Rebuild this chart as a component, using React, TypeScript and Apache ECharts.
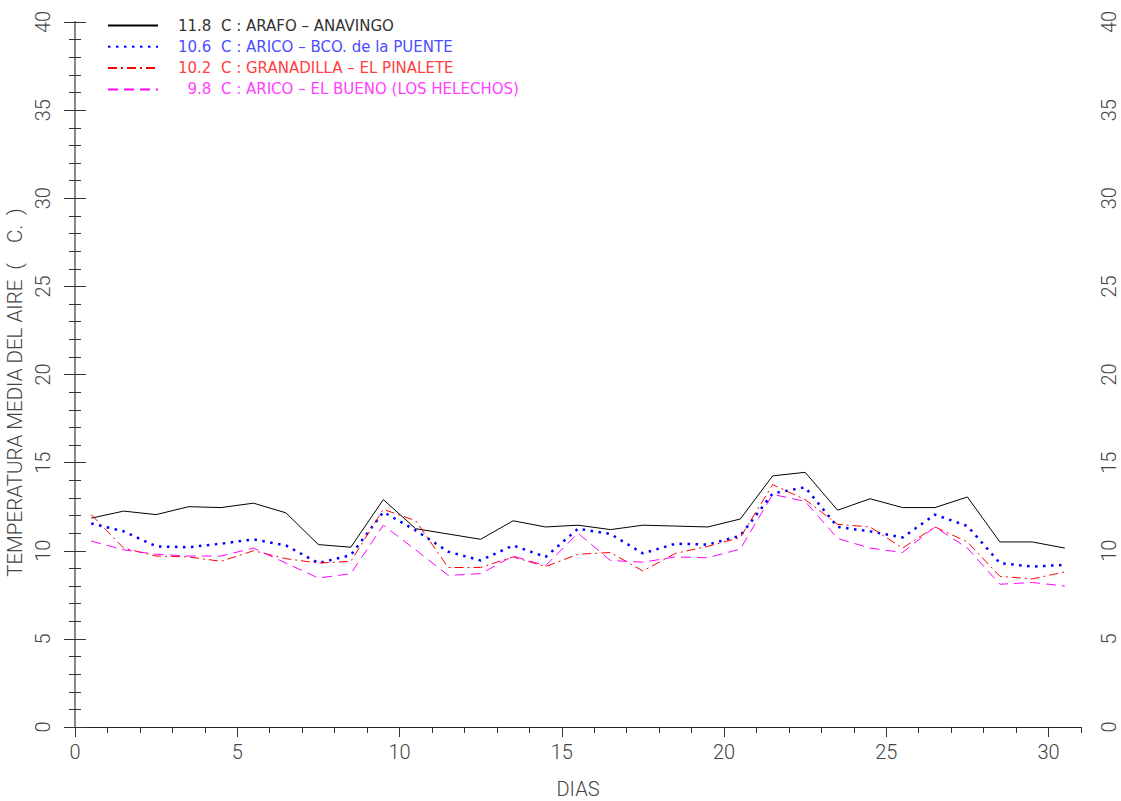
import React, { useEffect, useRef } from "react";
import * as echarts from "echarts";

const days = [0.5, 1.5, 2.5, 3.5, 4.5, 5.5, 6.5, 7.5, 8.5, 9.5, 10.5, 11.5, 12.5, 13.5, 14.5, 15.5, 16.5, 17.5, 18.5, 19.5, 20.5, 21.5, 22.5, 23.5, 24.5, 25.5, 26.5, 27.5, 28.5, 29.5, 30.5];

const arafo = [11.85, 12.25, 12.05, 12.5, 12.45, 12.7, 12.15, 10.35, 10.2, 12.9, 11.25, 10.95, 10.65, 11.7, 11.35, 11.45, 11.2, 11.45, 11.4, 11.35, 11.8, 14.25, 14.45, 12.3, 12.95, 12.45, 12.45, 13.05, 10.5, 10.5, 10.15];
const bcoPuente = [11.55, 11.1, 10.25, 10.2, 10.4, 10.65, 10.3, 9.3, 9.75, 12.2, 11.15, 9.95, 9.45, 10.3, 9.65, 11.25, 10.95, 9.85, 10.4, 10.35, 10.85, 13.25, 13.6, 11.35, 11.1, 10.75, 12.05, 11.4, 9.3, 9.1, 9.2];
const pinalete = [12.05, 10.15, 9.7, 9.65, 9.4, 10.0, 9.55, 9.3, 9.4, 12.35, 11.7, 9.05, 9.05, 9.65, 9.1, 9.8, 9.9, 8.85, 9.85, 10.25, 10.75, 13.75, 12.9, 11.5, 11.35, 10.15, 11.35, 10.5, 8.55, 8.4, 8.8];
const helechos = [10.55, 10.05, 9.8, 9.7, 9.7, 10.15, 9.3, 8.45, 8.7, 11.45, 10.05, 8.6, 8.7, 9.7, 9.15, 11.0, 9.45, 9.35, 9.65, 9.6, 10.1, 13.2, 12.8, 10.7, 10.15, 9.9, 11.35, 10.15, 8.1, 8.2, 8.0];

const seriesNames = [
  "11.8  C : ARAFO \u2013 ANAVINGO",
  "10.6  C : ARICO \u2013 BCO. de la PUENTE",
  "10.2  C : GRANADILLA \u2013 EL PINALETE",
  "  9.8  C : ARICO \u2013 EL BUENO (LOS HELECHOS)",
];
const xMajorTicks = [0, 5, 10, 15, 20, 25, 30];

const labelFont = "Roboto, 'DejaVu Sans', sans-serif";
const labelWeight = 300;

export default function App() {
  const ref = useRef<HTMLDivElement>(null);
  useEffect(() => {
    const chart = echarts.init(ref.current!, null, { renderer: "svg" });
    const toPts = (arr: number[]) => days.map((d, i) => [d, arr[i]]);
    const lineColors = ["#000000", "#0000ff", "#ff0000", "#ff00ff"];
    const textColors = ["#333333", "#4d4dff", "#ff4040", "#ff40ff"];
    const lineStyles: any[] = [
      { width: 1, type: "solid", color: "#000000" },
      { width: 2.5, type: [2.5, 5.5], color: "#0000ff" },
      { width: 1, type: [9, 4, 2, 4], color: "#ff0000" },
      { width: 1, type: [10, 6], color: "#ff00ff" },
    ];
    const datasets = [arafo, bcoPuente, pinalete, helechos];
    const yAxisCommon = {
      type: "value",
      min: 0,
      max: 40,
      interval: 5,
      splitLine: { show: false },
      axisLine: { show: true, lineStyle: { color: "#888", width: 2 } },
      axisTick: { show: true, length: 11, lineStyle: { color: "#333", width: 1 } },
      minorTick: { show: true, splitNumber: 5, length: 6, lineStyle: { color: "#333", width: 1 } },
      axisLabel: { rotate: 90, fontSize: 20, color: "#444", fontFamily: labelFont, fontWeight: labelWeight },
    };
    chart.setOption({
      animation: false,
      backgroundColor: "#ffffff",
      grid: { left: 75, right: 40, top: 22, bottom: 74, containLabel: false, outerBoundsMode: "none" },
      legend: {
        orient: "vertical",
        left: 107,
        top: 18,
        padding: 0,
        itemWidth: 50,
        itemHeight: 14,
        itemGap: 6.3,
        itemStyle: { opacity: 0 },
        data: seriesNames.map((n, i) => ({ name: n, textStyle: { color: textColors[i] } })),
        textStyle: { fontSize: 15, fontFamily: "'DejaVu Sans', sans-serif", padding: [0, 0, 0, 15] },
      },
      xAxis: [
        {
          type: "value",
          min: 0,
          max: 31,
          interval: 1,
          position: "bottom",
          splitLine: { show: false },
          axisLine: { show: true, onZero: false, lineStyle: { color: "#222", width: 1 } },
          axisTick: { show: true, length: 6, lineStyle: { color: "#333" } },
          axisLabel: { show: false },
        },
        {
          type: "value",
          min: 0,
          max: 31,
          position: "bottom",
          splitLine: { show: false },
          axisLine: { show: false, onZero: false },
          axisTick: { show: true, length: 10, customValues: xMajorTicks, lineStyle: { color: "#333" } },
          axisLabel: { show: true, customValues: xMajorTicks, margin: 15, fontSize: 20, color: "#444", fontFamily: labelFont, fontWeight: labelWeight },
          name: "DIAS",
          nameLocation: "middle",
          nameGap: 52,
          nameTextStyle: { fontSize: 20, color: "#444", fontFamily: labelFont, fontWeight: labelWeight },
        },
      ],
      yAxis: [
        {
          ...yAxisCommon,
          position: "left",
          axisLabel: { ...yAxisCommon.axisLabel, margin: 22 },
          name: "TEMPERATURA MEDIA DEL AIRE  (    C.  )",
          nameLocation: "middle",
          nameGap: 47,
          nameRotate: 90,
          nameTextStyle: { fontSize: 20.5, color: "#444", fontFamily: labelFont, fontWeight: labelWeight, padding: [0, 36, 0, 0] },
        },
        {
          ...yAxisCommon,
          position: "right",
          axisLabel: { ...yAxisCommon.axisLabel, margin: 18 },
        },
      ],
      series: datasets.map((arr, i) => ({
        type: "line",
        name: seriesNames[i],
        xAxisIndex: 0,
        yAxisIndex: 0,
        data: toPts(arr),
        symbol: "none",
        color: lineColors[i],
        lineStyle: lineStyles[i],
      })),
    });
    return () => chart.dispose();
  }, []);
  return <div ref={ref} style={{ position: "fixed", left: 0, top: 0, width: 1121, height: 801 }} />;
}
